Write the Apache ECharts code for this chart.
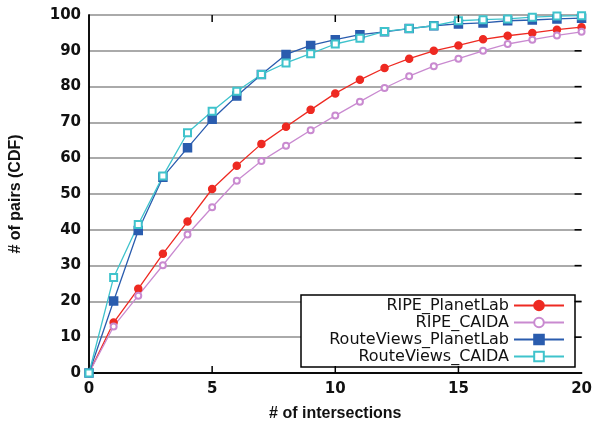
<!DOCTYPE html>
<html>
<head>
<meta charset="utf-8">
<script src="https://cdn.jsdelivr.net/npm/echarts@6/dist/echarts.min.js"></script>
<style>
  html, body { margin: 0; padding: 0; background: #fff; }
  #chart { width: 595px; height: 427px; }
</style>
</head>
<body>
<div id="chart"></div>
<script>
var intersections = [0, 1, 2, 3, 4, 5, 6, 7, 8, 9, 10, 11, 12, 13, 14, 15, 16, 17, 18, 19, 20];
var ripePlanetLab = [0, 14.1, 23.5, 33.3, 42.3, 51.4, 57.9, 64.0, 68.8, 73.5, 78.1, 81.9, 85.2, 87.8, 90.0, 91.5, 93.2, 94.2, 95.0, 95.9, 96.6];
var ripeCaida = [0, 13.0, 21.6, 30.1, 38.7, 46.3, 53.7, 59.2, 63.5, 67.8, 71.9, 75.8, 79.6, 82.9, 85.7, 87.8, 90.0, 91.9, 93.1, 94.3, 95.3];
var rvPlanetLab = [0, 20.1, 39.8, 54.7, 62.9, 70.9, 77.4, 83.4, 89.0, 91.5, 93.1, 94.5, 95.3, 96.2, 97.0, 97.5, 97.8, 98.4, 98.6, 98.9, 99.1];
var rvCaida = [0, 26.7, 41.5, 55.0, 67.1, 73.1, 78.7, 83.4, 86.6, 89.2, 91.9, 93.5, 95.4, 96.2, 97.0, 98.4, 98.7, 98.9, 99.4, 99.7, 99.8];
var seriesNames = ['RIPE_PlanetLab', 'RIPE_CAIDA', 'RouteViews_PlanetLab', 'RouteViews_CAIDA'];
var xTicks = [5, 10, 15];
var yTicks = [10, 20, 30, 40, 50, 60, 70, 80, 90];
var xMin = 0, xMax = 20, yMin = 0, yMax = 100;

function pairs(vals) {
  var res = [];
  for (var i = 0; i < intersections.length; i++) {
    res.push([intersections[i], vals[i]]);
  }
  return res;
}

var font = 'Liberation Sans, Arial, sans-serif';
var tickFont = 'DejaVu Sans, sans-serif';
var chart = echarts.init(document.getElementById('chart'));

function lineSeries(name, vals, color, symbol, size) {
  return {
    name: name,
    type: 'line',
    data: pairs(vals),
    symbol: symbol,
    symbolSize: size,
    showAllSymbol: true,
    lineStyle: { color: color, width: 1.3 },
    itemStyle: { color: color, borderColor: color, borderWidth: 1.5 },
    emphasis: { disabled: true },
    z: 3
  };
}

// inward tick marks on the frame, placed through the axes' scales
var tickLen = 7;
function seg(x1, y1, x2, y2) {
  return { type: 'line', shape: { x1: x1, y1: y1, x2: x2, y2: y2 },
    style: { stroke: '#000', lineWidth: 1.5 } };
}
var xTickSeries = {
  type: 'custom', silent: true, z: 4,
  data: xTicks.map(function (v) { return [v, yMin]; }),
  renderItem: function (params, api) {
    var b = api.coord([api.value(0), yMin]);
    var t = api.coord([api.value(0), yMax]);
    return { type: 'group', children: [
      seg(b[0], b[1], b[0], b[1] - tickLen),
      seg(t[0], t[1], t[0], t[1] + tickLen)
    ] };
  }
};
var yTickSeries = {
  type: 'custom', silent: true, z: 4,
  data: yTicks.map(function (v) { return [xMax, v]; }),
  renderItem: function (params, api) {
    var r = api.coord([xMax, api.value(1)]);
    return seg(r[0] - tickLen, r[1], r[0], r[1]);
  }
};

var option = {
  animation: false,
  grid: { left: 88, right: 11, top: 15, bottom: 54, containLabel: false },
  legend: {
    orient: 'vertical',
    right: 20,
    bottom: 60,
    align: 'right',
    itemWidth: 50,
    itemHeight: 12,
    itemGap: 0,
    padding: [2, 10, 2, 4],
    borderColor: '#000',
    borderWidth: 1.5,
    borderRadius: 0,
    backgroundColor: '#fff',
    data: seriesNames,
    textStyle: { fontFamily: tickFont, fontSize: 16, color: '#111', width: 204, align: 'right', lineHeight: 17 }
  },
  xAxis: [{
    type: 'value',
    min: xMin, max: xMax, interval: 5,
    name: '# of intersections',
    nameLocation: 'middle',
    nameGap: 33,
    nameTextStyle: { fontFamily: font, fontSize: 16, color: '#111', fontWeight: 'bold' },
    axisLine: { lineStyle: { color: '#000', width: 1.5 } },
    axisTick: { show: false },
    axisLabel: { fontFamily: tickFont, fontSize: 15, color: '#111', fontWeight: 'bold', margin: 9 },
    splitLine: { show: false }
  }, {
    type: 'value', position: 'top',
    min: xMin, max: xMax, interval: 5,
    axisLine: { lineStyle: { color: '#000', width: 1.5 } },
    axisTick: { show: false },
    axisLabel: { show: false },
    splitLine: { show: false }
  }],
  yAxis: [{
    type: 'value',
    min: yMin, max: yMax, interval: 10,
    name: '# of pairs (CDF)',
    nameLocation: 'middle',
    nameGap: 65,
    nameTextStyle: { fontFamily: font, fontSize: 16, color: '#111', fontWeight: 'bold' },
    axisLine: { show: true, lineStyle: { color: '#000', width: 1.5 } },
    axisTick: { show: false },
    axisLabel: { fontFamily: tickFont, fontSize: 15, color: '#111', fontWeight: 'bold', margin: 8 },
    splitLine: { show: true, lineStyle: { color: '#aaa', width: 2 } }
  }, {
    type: 'value', position: 'right',
    min: yMin, max: yMax, interval: 10,
    axisLine: { show: true, lineStyle: { color: '#000', width: 1.5 } },
    axisTick: { show: false },
    axisLabel: { show: false },
    splitLine: { show: false }
  }],
  series: [
    lineSeries(seriesNames[0], ripePlanetLab, '#ee2a22', 'circle', 7),
    lineSeries(seriesNames[1], ripeCaida, '#c98ad0', 'emptyCircle', 6),
    lineSeries(seriesNames[2], rvPlanetLab, '#2a5cae', 'rect', 8),
    lineSeries(seriesNames[3], rvCaida, '#3fc3cc', 'emptyRect', 7),
    xTickSeries,
    yTickSeries
  ]
};
chart.setOption(option);
</script>
</body>
</html>
